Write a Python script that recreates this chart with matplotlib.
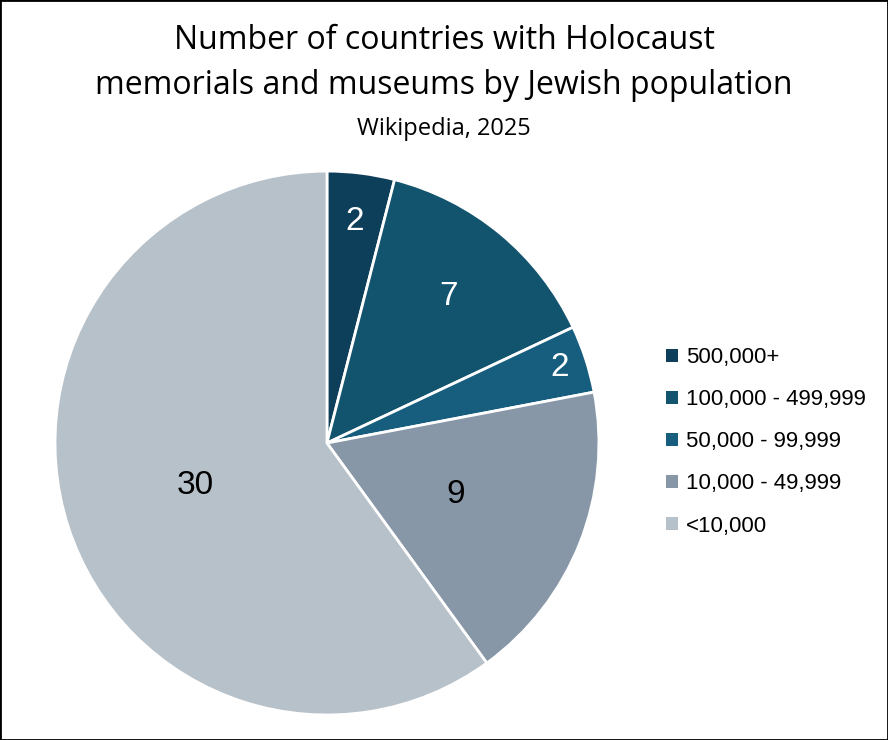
import numpy as np
import matplotlib.pyplot as plt
from matplotlib.patches import Rectangle

# 数据
categories = ['500,000+', '100,000 - 499,999', '50,000 - 99,999', '10,000 - 49,999', '<10,000']
counts = [2, 7, 2, 9, 30]
colors = ['#0E3F5A', '#12536E', '#175E7E', '#8797A8', '#B7C1CA']
label_colors = ['white', 'white', 'white', 'black', 'black']
label_radii = [0.82, 0.70, 0.90, 0.51, 0.51]

plt.rcParams['font.family'] = ['Open Sans', 'DejaVu Sans']

fig = plt.figure(figsize=(8.88, 7.4), dpi=100)
fig.patches.append(Rectangle((0, 0), 1, 1, transform=fig.transFigure,
                             fill=False, edgecolor='black', linewidth=2))

ax = fig.add_axes([0.0619, 0.0338, 0.6126, 0.735])
wedges, _ = ax.pie(counts, colors=colors, startangle=90, counterclock=False,
                   wedgeprops=dict(edgecolor='white', linewidth=2))
ax.set_xlim(-1, 1)
ax.set_ylim(-1, 1)
ax.set_aspect('equal')

# 扇区标签
for w, val, r, c in zip(wedges, counts, label_radii, label_colors):
    ang = np.deg2rad((w.theta1 + w.theta2) / 2)
    ax.text(r * np.cos(ang), r * np.sin(ang), str(val), ha='center', va='center',
            fontsize=24, color=c, family=['Liberation Sans', 'DejaVu Sans'])

# 标题
fig.text(0.5, 0.945, 'Number of countries with Holocaust', ha='center', va='center', fontsize=23)
fig.text(0.5, 0.885, 'memorials and museums by Jewish population', ha='center', va='center', fontsize=23)
fig.text(0.5, 0.826, 'Wikipedia, 2025', ha='center', va='center', fontsize=17)

# 图例
leg = fig.legend(wedges, categories, loc='center left', bbox_to_anchor=(0.737, 0.403),
                 frameon=False, handlelength=0.55, handleheight=0.55,
                 handletextpad=0.35, labelspacing=0.95, borderpad=0,
                 prop={'family': ['Liberation Sans', 'DejaVu Sans'], 'size': 16})
for h in leg.legend_handles:
    h.set_edgecolor('none')

fig.savefig('out.png', dpi=100)
